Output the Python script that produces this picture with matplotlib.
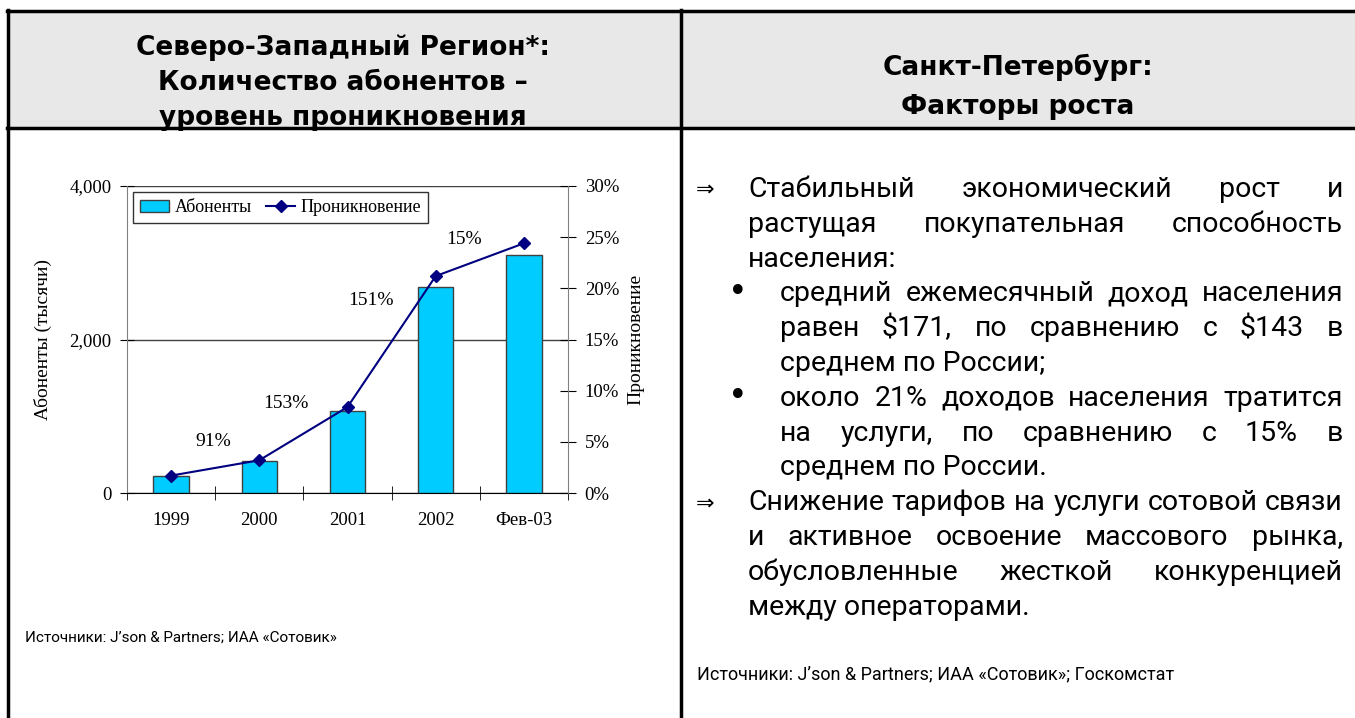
import numpy as np
import matplotlib
matplotlib.use("Agg")
import matplotlib.pyplot as plt
from matplotlib.ticker import FuncFormatter, PercentFormatter
from matplotlib.patches import Rectangle

# данные графика
years = ["1999", "2000", "2001", "2002", "Фев-03"]
subscribers = [220, 420, 1065, 2690, 3100]          # тысячи абонентов
penetration = [1.7, 3.2, 8.4, 21.2, 24.4]           # %
growth_labels = ["91%", "153%", "151%", "15%"]
growth_offsets = [(-2, 26), (-17, 30), (-21, 41), (-16, 20)]  # px от середины отрезка линии

left_title = ["Северо-Западный Регион*:", "Количество абонентов –", "уровень проникновения"]
right_title = ["Санкт-Петербург:", "Факторы роста"]
left_source = "Источники: J’son & Partners; ИАА «Сотовик»"
right_source = "Источники: J’son & Partners; ИАА «Сотовик»; Госкомстат"

# строки текста: (маркер, текст, выравнивание по ширине)
body_lines = [
    ("arrow", "Стабильный экономический рост и", True),
    (None, "растущая покупательная способность", True),
    (None, "населения:", False),
    ("bullet", "средний ежемесячный доход населения", True),
    (None, "равен $171, по сравнению с $143 в", True),
    (None, "среднем по России;", False),
    ("bullet", "около 21% доходов населения тратится", True),
    (None, "на услуги, по сравнению с 15% в", True),
    (None, "среднем по России.", False),
    ("arrow", "Снижение тарифов на услуги сотовой связи", True),
    (None, "и активное освоение массового рынка,", True),
    (None, "обусловленные жесткой конкуренцией", True),
    (None, "между операторами.", False),
]

W, H = 1355, 718
fig = plt.figure(figsize=(W / 100, H / 100), dpi=100)

# фон-слой в пиксельных координатах
bg = fig.add_axes([0, 0, 1, 1], zorder=0)
bg.set_xlim(0, W)
bg.set_ylim(H, 0)
bg.axis("off")

bg.add_patch(Rectangle((7, 10), W - 7, 118, facecolor="#e8e8e8", edgecolor="none"))
bg.plot([7, W], [10.5, 10.5], color="black", lw=2.5)
bg.plot([7, W], [127.5, 127.5], color="black", lw=2.5)
bg.plot([7.5, 7.5], [10, H], color="black", lw=2.5)
bg.plot([680.5, 680.5], [10, H], color="black", lw=2.5)

hfont = dict(family="DejaVu Sans", weight="bold", fontsize=19, ha="center", va="baseline")
for i, s in enumerate(left_title):
    bg.text(343, 55 + 35 * i, s, **hfont)
for i, s in enumerate(right_title):
    bg.text(1018, 75 + 38.5 * i, s, **hfont)

body_family = ["Roboto", "DejaVu Sans"]
bfont = dict(family=body_family, fontsize=20.5, va="baseline")
renderer = fig.canvas.get_renderer()
right_edge = 1343
y0, step = 197, 34.8
indent = 748
for i, (mark, s, justify) in enumerate(body_lines):
    y = y0 + step * i
    if mark == "arrow":
        indent = 748
        bg.text(696, y - 1, "⇒", family="DejaVu Sans", fontsize=16, va="baseline")
    elif mark == "bullet":
        indent = 780
        bg.text(738, y - 9, "•", fontsize=24, family="DejaVu Sans", ha="center", va="center")
    if not justify:
        bg.text(indent, y, s, **bfont)
        continue
    words = s.split()
    texts = [bg.text(0, y, w, **bfont) for w in words]
    widths = [t.get_window_extent(renderer).width for t in texts]
    gap = (right_edge - indent - sum(widths)) / (len(words) - 1)
    x = indent
    for t, w in zip(texts, widths):
        t.set_x(x)
        x += w + gap

bg.text(25, 642, left_source, family=body_family, fontsize=11, va="baseline")
bg.text(697, 679, right_source, family=body_family, fontsize=13, va="baseline")

# график
serif = "Liberation Serif"
ax = fig.add_axes([127 / W, 1 - 493 / H, 441 / W, 307 / H], zorder=2)
ax.patch.set_alpha(0)
x = np.arange(len(years))
bars = ax.bar(x, subscribers, width=0.4, color="#00ccff", edgecolor="#404040", lw=1,
              label="Абоненты", zorder=2)
ax.set_xlim(-0.5, len(years) - 0.5)
ax.set_ylim(0, 4000)
ax.set_yticks([0, 2000, 4000])
ax.yaxis.set_major_formatter(FuncFormatter(lambda v, p: f"{int(v):,}"))
ax.yaxis.grid(True, color="#404040", lw=1)
ax.set_axisbelow(True)
ax.set_xticks(x)
ax.set_xticklabels(years)
ax.set_xticks(np.arange(-0.5, len(years), 1), minor=True)
ax.tick_params(axis="x", which="major", length=0, pad=14)
ax.tick_params(axis="x", which="minor", length=10, direction="inout", color="black")
ax.tick_params(axis="y", length=10, direction="inout", pad=6)
for lab in ax.get_xticklabels() + ax.get_yticklabels():
    lab.set_family(serif)
    lab.set_fontsize(13.5)
for sp in ["top", "right"]:
    ax.spines[sp].set_visible(False)
ax.spines["left"].set_color("#808080")
ax.spines["bottom"].set_color("black")
ax.set_ylabel("Абоненты (тысячи)", family=serif, fontsize=14, labelpad=13)

ax2 = ax.twinx()
ax2.set_zorder(3)
line, = ax2.plot(x, penetration, color="#000080", marker="D", ms=6, lw=1.5, label="Проникновение")
ax2.set_ylim(0, 30)
ax2.set_yticks(np.arange(0, 31, 5))
ax2.yaxis.set_major_formatter(PercentFormatter(decimals=0))
ax2.tick_params(axis="y", length=12, direction="inout", pad=6)
for lab in ax2.get_yticklabels():
    lab.set_family(serif)
    lab.set_fontsize(13.5)
for sp in ["top", "left", "bottom"]:
    ax2.spines[sp].set_visible(False)
ax2.spines["right"].set_color("#808080")
ax2.set_ylabel("Проникновение", family=serif, fontsize=14, labelpad=6)

# подписи прироста
for i, (lab, (dx, dy)) in enumerate(zip(growth_labels, growth_offsets)):
    mx = (x[i] + x[i + 1]) / 2
    my = (penetration[i] + penetration[i + 1]) / 2
    ax2.annotate(lab, (mx, my), xytext=(dx * 0.72, dy * 0.72), textcoords="offset points",
                 ha="center", va="center", family=serif, fontsize=14)

leg = ax2.legend([bars, line], ["Абоненты", "Проникновение"], ncol=2,
                 loc="upper left", bbox_to_anchor=(133 / W, 1 - 192 / H),
                 bbox_transform=fig.transFigure, borderaxespad=0,
                 prop={"family": serif, "size": 13}, frameon=True, fancybox=False,
                 edgecolor="black", handlelength=1.6, handletextpad=0.3,
                 columnspacing=0.8, borderpad=0.4)
leg.get_frame().set_linewidth(1)

fig.savefig("out.png", dpi=100)
